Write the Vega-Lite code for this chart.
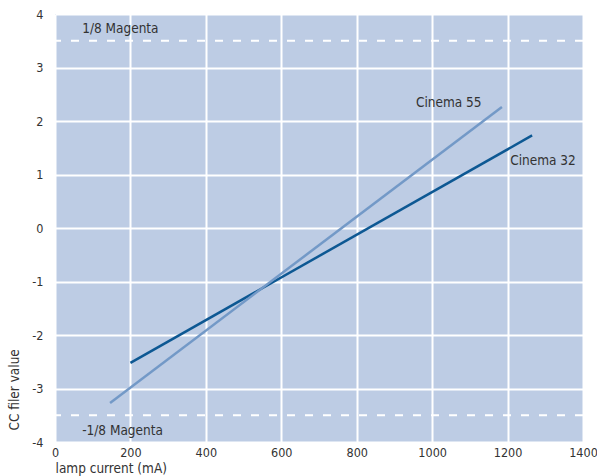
{
  "$schema": "https://vega.github.io/schema/vega-lite/v6.json",
  "width": 528,
  "height": 428,
  "autosize": {"type": "none"},
  "padding": {"left": 55, "top": 14, "right": 14, "bottom": 34},
  "background": "white",
  "config": {
    "view": {"fill": "#bdcce4", "stroke": null},
    "font": "DejaVu Sans Condensed, Roboto",
    "axis": {"labelFont": "DejaVu Sans Condensed, Roboto", "titleFont": "DejaVu Sans Condensed, Roboto", "labelFontSize": 12.5, "titleFontSize": 13.5, "labelColor": "#333333", "titleColor": "#333333", "titleFontWeight": "normal", "domain": false, "ticks": false, "gridColor": "white", "gridWidth": 2, "gridOpacity": 1, "labelFlush": false}
  },
  "datasets": {
    "lines": [
      {"series": "Cinema 32", "current": 200, "cc": -2.52},
      {"series": "Cinema 32", "current": 1265, "cc": 1.73},
      {"series": "Cinema 55", "current": 146, "cc": -3.27},
      {"series": "Cinema 55", "current": 1185, "cc": 2.26}
    ],
    "refs": [{"cc": 3.5}, {"cc": -3.5}],
    "seriesLabels": [
      {"label": "Cinema 55", "current": 1044, "cc": 2.33},
      {"label": "Cinema 32", "current": 1294, "cc": 1.25}
    ],
    "refLabels": [
      {"label": "1/8 Magenta", "current": 72, "cc": 3.72},
      {"label": "-1/8 Magenta", "current": 72, "cc": -3.79}
    ]
  },
  "layer": [
    {
      "data": {"name": "refs"},
      "mark": {"type": "rule", "color": "white", "strokeWidth": 2, "strokeDash": [8, 10]},
      "encoding": {
        "y": {"field": "cc", "type": "quantitative", "scale": {"domain": [-4, 4]},
          "axis": {"values": [-4, -3, -2, -1, 0, 1, 2, 3, 4], "labelExpr": "'' + datum.value", "title": "CC filer value", "titleAnchor": "start", "labelPadding": 12, "titlePadding": 10, "titleY": 416}}
      }
    },
    {
      "data": {"name": "lines"},
      "mark": {"type": "line", "strokeWidth": 2.5},
      "encoding": {
        "x": {"field": "current", "type": "quantitative", "scale": {"domain": [0, 1400]},
          "axis": {"values": [0, 200, 400, 600, 800, 1000, 1200, 1400], "labelExpr": "'' + datum.value", "title": "lamp current (mA)", "titleAnchor": "start", "titleAlign": "left", "labelPadding": 4, "titlePadding": 3, "labelDx": 2}},
        "y": {"field": "cc", "type": "quantitative"},
        "color": {"field": "series", "type": "nominal", "scale": {"domain": ["Cinema 32", "Cinema 55"], "range": ["#0d5893", "#7399c7"]}, "legend": null},
        "detail": {"field": "series"}
      }
    },
    {
      "data": {"name": "seriesLabels"},
      "mark": {"type": "text", "fontSize": 13.5, "color": "#333333", "baseline": "middle", "align": "center"},
      "encoding": {
        "x": {"field": "current", "type": "quantitative"},
        "y": {"field": "cc", "type": "quantitative"},
        "text": {"field": "label"}
      }
    },
    {
      "data": {"name": "refLabels"},
      "mark": {"type": "text", "fontSize": 13.5, "color": "#333333", "baseline": "middle", "align": "left"},
      "encoding": {
        "x": {"field": "current", "type": "quantitative"},
        "y": {"field": "cc", "type": "quantitative"},
        "text": {"field": "label"}
      }
    }
  ]
}
